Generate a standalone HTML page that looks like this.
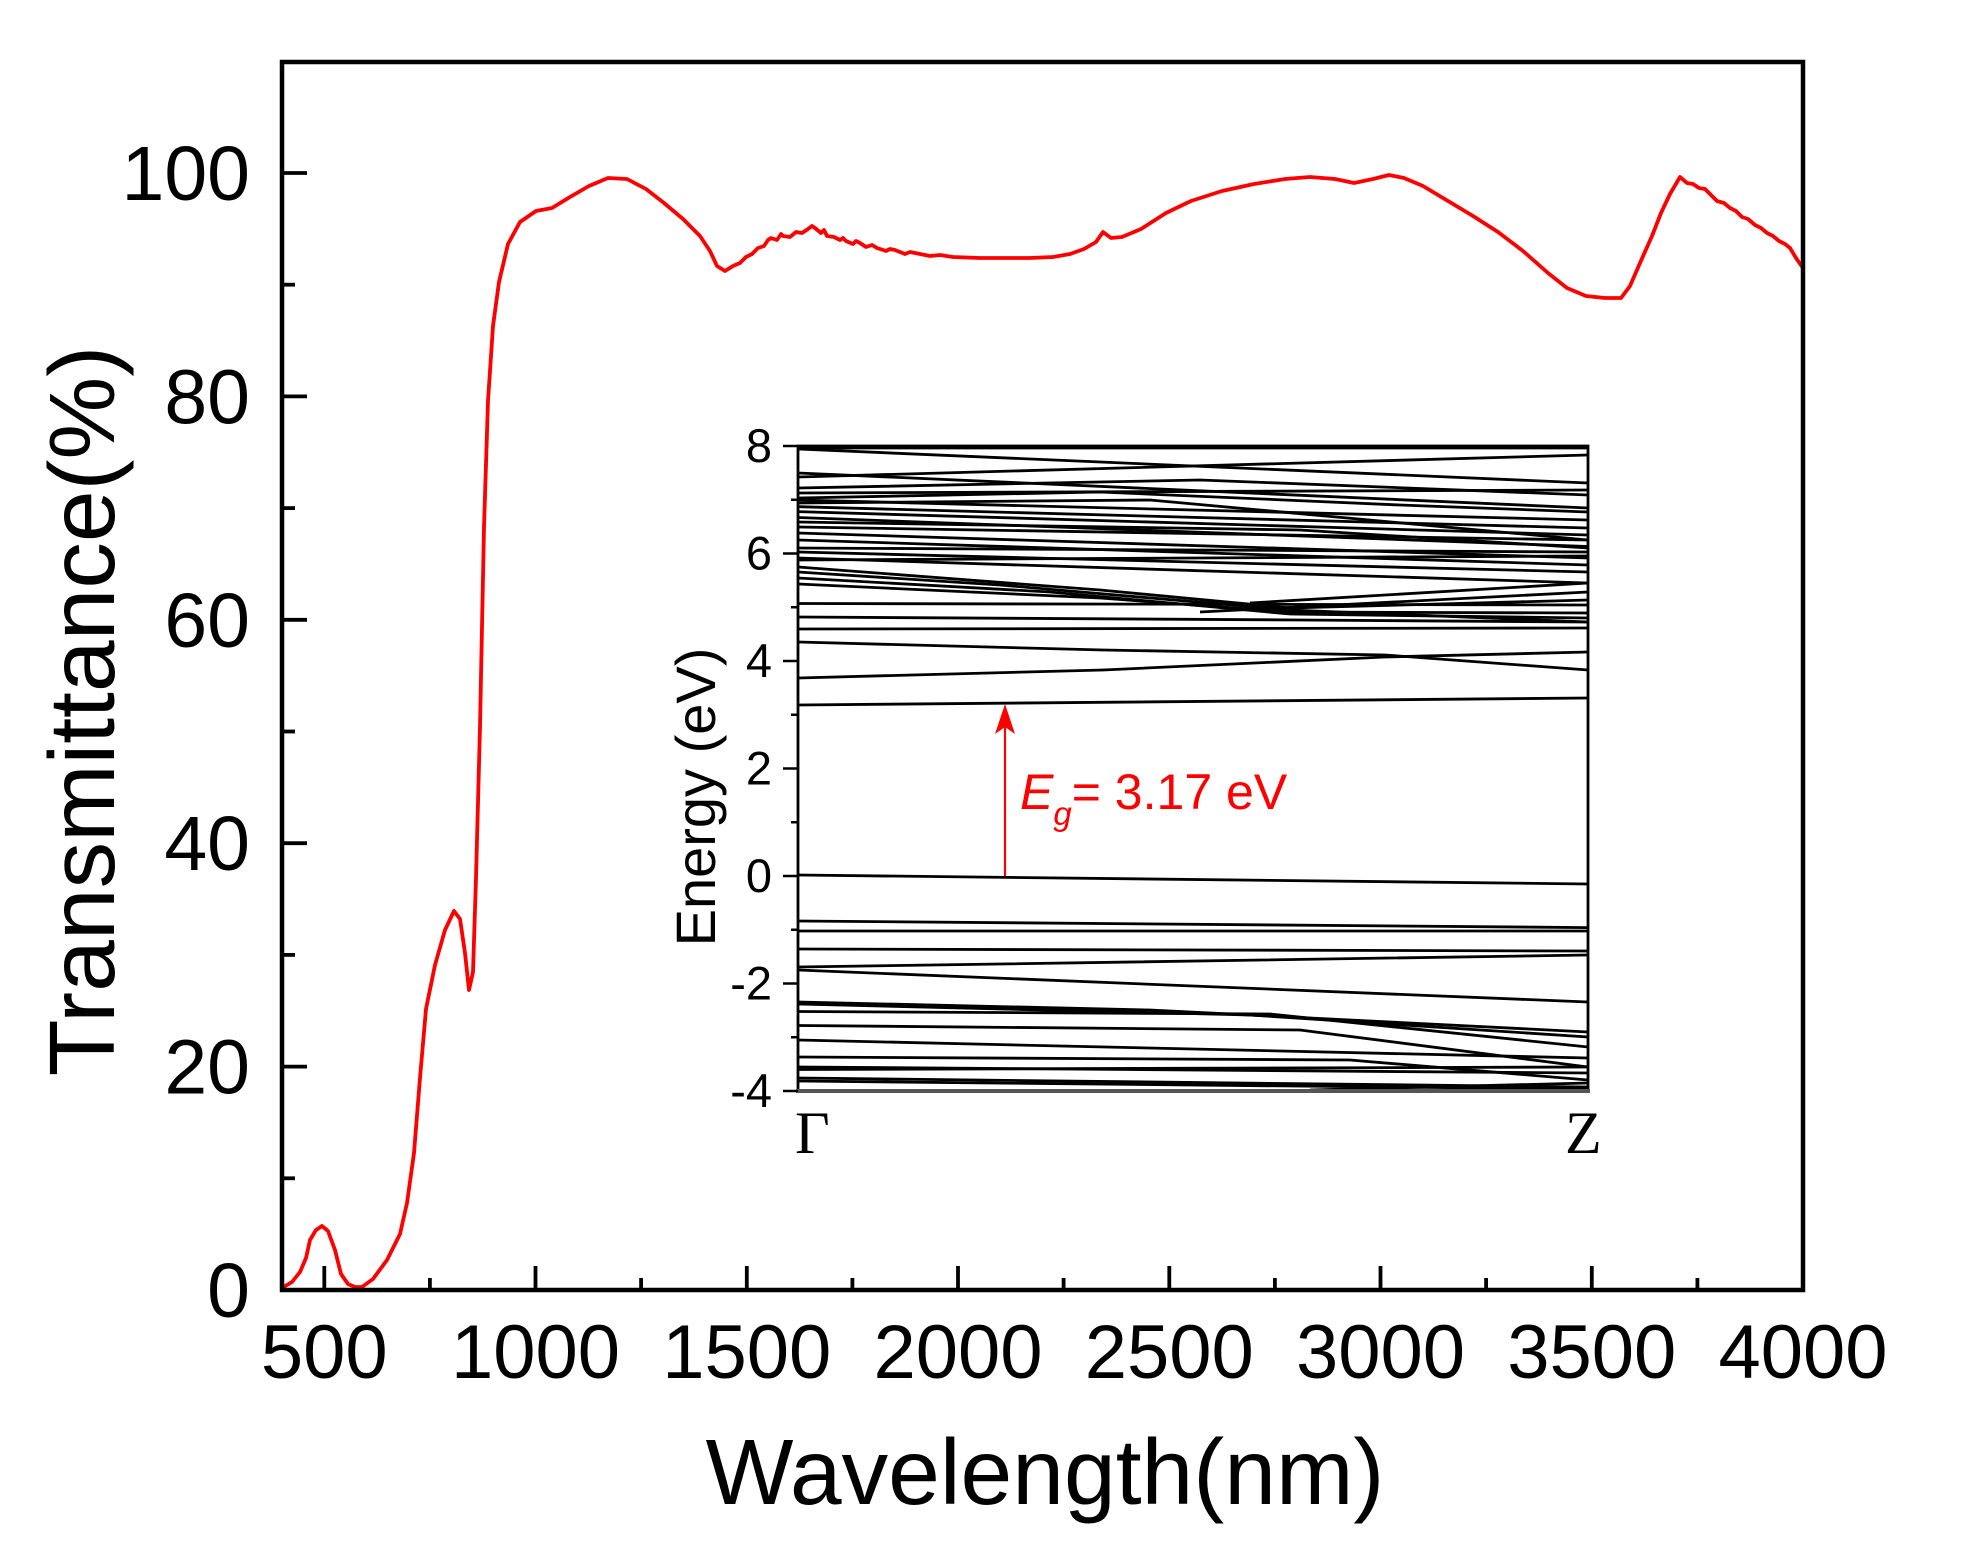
<!DOCTYPE html>
<html>
<head>
<meta charset="utf-8">
<style>
  html,body{margin:0;padding:0;background:#fff;}
  svg{display:block;}
  text{font-family:"Liberation Sans",Arial,sans-serif;}
</style>
</head>
<body>
<svg width="1963" height="1566" viewBox="0 0 1963 1566" xmlns="http://www.w3.org/2000/svg">
  <rect x="0" y="0" width="1963" height="1566" fill="#fff"/>

  <!-- Main transmittance curve -->
  <path fill="none" stroke="#ff0000" stroke-width="3.8" stroke-linejoin="round" d="M282,1288 L292,1282 L300,1272 L306,1258 L310,1240 L316,1230 L322,1226 L328,1231 L335,1250 L341,1274 L348,1284 L355,1287 L362,1287 L373,1279 L387,1260 L400,1234 L407,1203 L414,1153 L420,1078 L426,1009 L435,965 L445,930 L454,911 L460,919 L465,953 L469,990 L473,972 L476,878 L480,727 L484,527 L488,401 L493,326 L499,282 L508,244 L520,222 L536,211 L552,208 L570,197 L589,186 L608,178 L627,179 L646,189 L664,203 L683,219 L700,236 L710,251 L717,266 L725,271 L733,266 L740,263 L746,257 L752,254 L758,248 L764,246 L768,240 L771,238 L777,240 L781,234 L783,236 L790,237 L796,232 L802,233 L808,229 L812,226 L815,228 L821,233 L824,230 L827,236 L834,237 L840,240 L843,238 L846,241 L853,244 L856,241 L860,243 L866,247 L872,245 L877,248 L886,251 L890,249 L895,250 L905,254 L910,252 L915,253 L930,256 L940,255 L953,257 L980,258 L1003,258 L1030,258 L1053,257 L1070,254 L1084,249 L1096,242 L1103,232 L1111,238 L1122,237 L1141,229 L1166,213 L1191,201 L1222,191 L1254,184 L1285,179 L1310,177 L1335,179 L1354,183 L1373,179 L1389,175 L1404,178 L1423,186 L1448,201 L1473,216 L1498,232 L1523,251 L1548,273 L1567,288 L1586,296 L1605,298 L1621,298 L1630,286 L1640,263 L1652,236 L1661,213 L1670,194 L1680,177 L1687,183 L1693,184 L1699,188 L1705,189 L1711,195 L1717,201 L1724,203 L1730,208 L1736,211 L1742,217 L1748,219 L1755,225 L1761,228 L1767,233 L1773,236 L1779,241 L1785,244 L1790,248 L1796,258 L1803,268"/>

  <!-- Main frame -->
  <rect x="282" y="62" width="1521" height="1228" fill="none" stroke="#000" stroke-width="4.5"/>

  <!-- Y ticks -->
  <g stroke="#000" stroke-width="3.8">
    <line x1="282" y1="1290" x2="307" y2="1290"/>
    <line x1="282" y1="1066.6" x2="307" y2="1066.6"/>
    <line x1="282" y1="843.2" x2="307" y2="843.2"/>
    <line x1="282" y1="619.8" x2="307" y2="619.8"/>
    <line x1="282" y1="396.4" x2="307" y2="396.4"/>
    <line x1="282" y1="173" x2="307" y2="173"/>
    <line x1="282" y1="1178.3" x2="295" y2="1178.3"/>
    <line x1="282" y1="954.9" x2="295" y2="954.9"/>
    <line x1="282" y1="731.5" x2="295" y2="731.5"/>
    <line x1="282" y1="508.1" x2="295" y2="508.1"/>
    <line x1="282" y1="284.7" x2="295" y2="284.7"/>
  </g>
  <!-- X ticks -->
  <g stroke="#000" stroke-width="3.8">
    <line x1="324.3" y1="1290" x2="324.3" y2="1266"/>
    <line x1="535.5" y1="1290" x2="535.5" y2="1266"/>
    <line x1="746.8" y1="1290" x2="746.8" y2="1266"/>
    <line x1="958" y1="1290" x2="958" y2="1266"/>
    <line x1="1169.3" y1="1290" x2="1169.3" y2="1266"/>
    <line x1="1380.5" y1="1290" x2="1380.5" y2="1266"/>
    <line x1="1591.8" y1="1290" x2="1591.8" y2="1266"/>
    <line x1="429.9" y1="1290" x2="429.9" y2="1278"/>
    <line x1="641.1" y1="1290" x2="641.1" y2="1278"/>
    <line x1="852.4" y1="1290" x2="852.4" y2="1278"/>
    <line x1="1063.6" y1="1290" x2="1063.6" y2="1278"/>
    <line x1="1274.9" y1="1290" x2="1274.9" y2="1278"/>
    <line x1="1486.1" y1="1290" x2="1486.1" y2="1278"/>
    <line x1="1697.4" y1="1290" x2="1697.4" y2="1278"/>
  </g>

  <!-- Y tick labels -->
  <g font-size="77" text-anchor="end" fill="#000">
    <text x="250" y="1317">0</text>
    <text x="250" y="1093.6">20</text>
    <text x="250" y="870.2">40</text>
    <text x="250" y="646.8">60</text>
    <text x="250" y="423.4">80</text>
    <text x="250" y="200">100</text>
  </g>
  <!-- X tick labels -->
  <g font-size="76" text-anchor="middle" fill="#000">
    <text x="324.3" y="1378">500</text>
    <text x="535.5" y="1378">1000</text>
    <text x="746.8" y="1378">1500</text>
    <text x="958" y="1378">2000</text>
    <text x="1169.3" y="1378">2500</text>
    <text x="1380.5" y="1378">3000</text>
    <text x="1591.8" y="1378">3500</text>
    <text x="1803" y="1378">4000</text>
  </g>

  <!-- Axis titles -->
  <text x="1045" y="1504" font-size="93" text-anchor="middle" fill="#000">Wavelength(nm)</text>
  <text transform="translate(114,711) rotate(-90)" font-size="93" text-anchor="middle" fill="#000">Transmittance(%)</text>

  <!-- Inset -->
  <defs>
    <clipPath id="ic"><rect x="798" y="446" width="790" height="645"/></clipPath>
  </defs>
  <rect x="798" y="446" width="790" height="645" fill="#fff"/>
  <g clip-path="url(#ic)" fill="none" stroke="#000" stroke-width="2.8">
    <!-- conduction bands -->
    <path d="M798,705 L1588,698"/>
    <path d="M798,678 L1103,670 L1385,657 L1588,652"/>
    <path d="M798,642 L1103,650 L1385,655 L1588,670"/>
    <path d="M798,629 L1588,628"/>
    <path d="M798,617 L1300,620 L1588,622"/>
    <path d="M798,603.5 L1588,605"/>
    <path d="M798,584 L1100,598 L1290,612 L1588,613"/>
    <path d="M798,572 L1000,585 L1290,610 L1588,622"/>
    <path d="M798,567 L1100,590 L1290,608 L1588,600"/>
    <path d="M798,578 L1050,592 L1290,614 L1588,618"/>
    <path d="M1250,603 L1588,583"/>
    <path d="M1200,612 L1588,592"/>
    <path d="M798,558 L1588,583"/>
    <path d="M798,552 L1588,572"/>
    <path d="M798,548 L1588,552"/>
    <path d="M798,560 L1588,556"/>
    <path d="M798,540 L1588,565"/>
    <path d="M798,533 L1588,558"/>
    <path d="M798,527 L1588,540"/>
    <path d="M798,522 L1300,530 L1588,548"/>
    <path d="M798,517.5 L1588,546.5"/>
    <path d="M798,511.6 L1588,535"/>
    <path d="M798,506.7 L1588,528"/>
    <path d="M798,500 L1588,520"/>
    <path d="M798,493 L1588,490"/>
    <path d="M798,488 L1200,480 L1588,495"/>
    <path d="M798,503 L1150,500 L1588,540"/>
    <path d="M798,473 L1588,508"/>
    <path d="M798,477 L1588,455"/>
    <path d="M798,449 L1588,483"/>
    <path d="M798,448 L1588,448"/>
    <path d="M798,498 L1100,492 L1400,505 L1588,512"/>
    <!-- valence bands -->
    <path d="M798,875 L1588,884"/>
    <path d="M798,921 L1588,927.6"/>
    <path d="M798,931 L1588,931"/>
    <path d="M798,949 L1588,951"/>
    <path d="M798,967 L1000,964 L1588,955"/>
    <path d="M798,970 L1588,1002"/>
    <path d="M798,1002 L1150,1010 L1588,1032"/>
    <path d="M798,1004 L1250,1015 L1588,1037"/>
    <path d="M798,1011.5 L1270,1014 L1588,1047"/>
    <path d="M798,1025.5 L1300,1030 L1588,1067"/>
    <path d="M798,1040 L1588,1058"/>
    <path d="M798,1057 L1350,1060 L1588,1080"/>
    <path d="M798,1067 L1588,1073"/>
    <path d="M798,1069.5 L1588,1067"/>
    <path d="M798,1078 L1588,1087"/>
    <path d="M798,1081 L1588,1089"/>
    <path d="M1310,1090 L1588,1083"/>
  </g>
  <rect x="798" y="446" width="790" height="645" fill="none" stroke="#000" stroke-width="2.8"/>
  <line x1="796" y1="1091" x2="1590" y2="1091" stroke="#555" stroke-width="4"/>

  <!-- Inset ticks -->
  <g stroke="#000" stroke-width="2.5">
    <line x1="783" y1="1091" x2="798" y2="1091"/>
    <line x1="783" y1="983.5" x2="798" y2="983.5"/>
    <line x1="783" y1="876" x2="798" y2="876"/>
    <line x1="783" y1="768.5" x2="798" y2="768.5"/>
    <line x1="783" y1="661" x2="798" y2="661"/>
    <line x1="783" y1="553.5" x2="798" y2="553.5"/>
    <line x1="783" y1="446" x2="798" y2="446"/>
    <line x1="791" y1="1037.25" x2="798" y2="1037.25"/>
    <line x1="791" y1="929.75" x2="798" y2="929.75"/>
    <line x1="791" y1="822.25" x2="798" y2="822.25"/>
    <line x1="791" y1="714.75" x2="798" y2="714.75"/>
    <line x1="791" y1="607.25" x2="798" y2="607.25"/>
    <line x1="791" y1="499.75" x2="798" y2="499.75"/>
  </g>
  <g font-size="47" text-anchor="end" fill="#000">
    <text x="772" y="1107">-4</text>
    <text x="772" y="999.5">-2</text>
    <text x="772" y="892">0</text>
    <text x="772" y="784.5">2</text>
    <text x="772" y="677">4</text>
    <text x="772" y="569.5">6</text>
    <text x="772" y="462">8</text>
  </g>
  <text transform="translate(715,797) rotate(-90)" font-size="56" text-anchor="middle" fill="#000">Energy (eV)</text>
  <text x="795" y="1153" font-size="60" fill="#000" style="font-family:'Liberation Serif','Times New Roman',serif;">Γ</text>
  <text x="1565" y="1153" font-size="60" fill="#000" style="font-family:'Liberation Serif','Times New Roman',serif;">Z</text>

  <!-- Band gap arrow and label -->
  <line x1="1005" y1="876" x2="1005" y2="716" stroke="#ff0000" stroke-width="2.2"/>
  <polygon points="1005,704 1015,734 1005,727 995,734" fill="#ff0000"/>
  <text x="1020" y="809" font-size="50" fill="#ff0000"><tspan font-style="italic">E</tspan><tspan font-size="33" font-style="italic" dy="16">g</tspan><tspan dy="-16">= 3.17 eV</tspan></text>
</svg>
</body>
</html>
